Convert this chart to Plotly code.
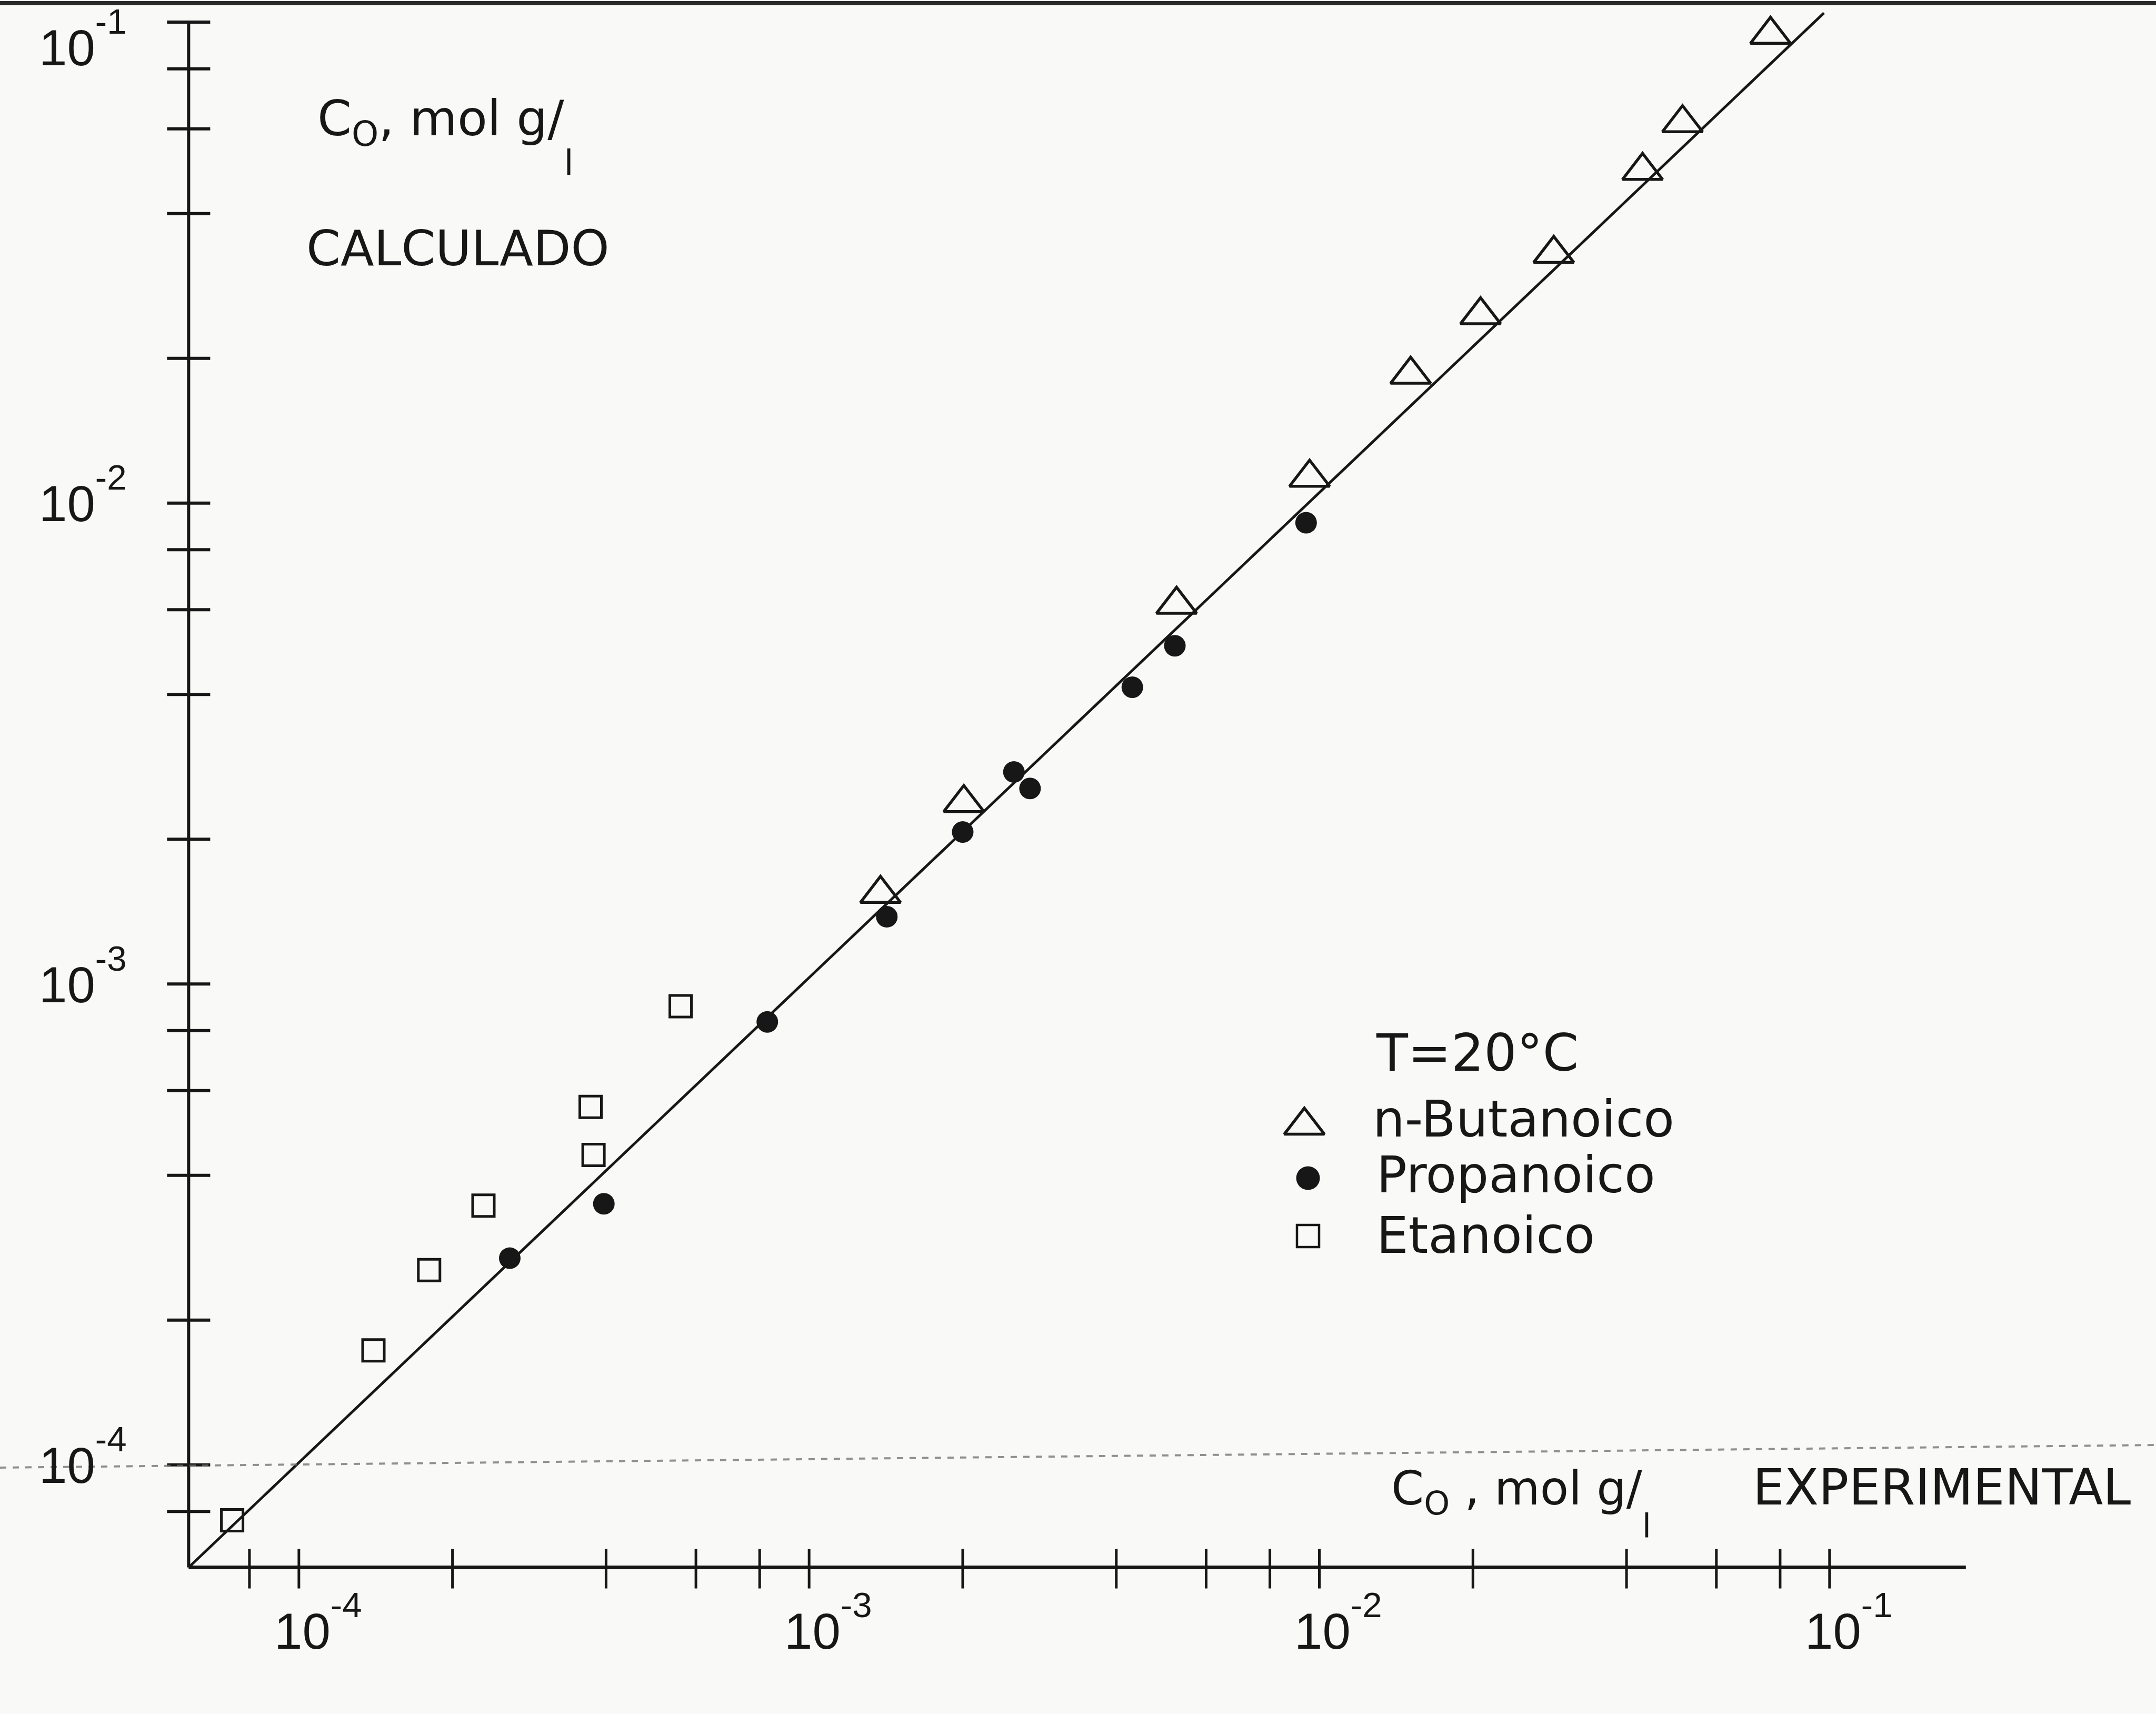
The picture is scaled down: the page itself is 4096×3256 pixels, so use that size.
import numpy as np
import plotly.graph_objects as go

W, H = 4096, 3256
INK = "#171717"
FONT = "DejaVu Sans, Noto Sans, sans-serif"
NUM_FONT = "Liberation Sans, Arial, sans-serif"

# Concentrations C0 (mol g/l): experimental (x) vs calculated (y)
BUT_EXP = [0.0766, 0.0515, 0.0430, 0.0288, 0.0207, 0.0151, 0.00957, 0.00525, 0.00201, 0.00138]
BUT_CAL = [0.0942, 0.0617, 0.0491, 0.0330, 0.0246, 0.0185, 0.0113, 0.00615, 0.00238, 0.00154]

PROP_EXP = [0.00942, 0.00521, 0.00430, 0.00252, 0.00271, 0.00200, 0.00142, 0.000828, 0.000396, 0.000259]
PROP_CAL = [0.00910, 0.00505, 0.00414, 0.00276, 0.00255, 0.00207, 0.00138, 0.000834, 0.000349, 0.000269]

ET_EXP = [0.000560, 0.000373, 0.000378, 0.000230, 0.000180, 0.000140, 0.0000740]
ET_CAL = [0.000899, 0.000555, 0.000441, 0.000346, 0.000254, 0.000173, 0.0000767]

# Calculated = experimental reference line
FIT_EXP = [6.08e-5, 0.0975]
FIT_CAL = [6.12e-5, 0.1045]

# Axis ticks (same for both log axes)
TICKS = [8e-5, 1e-4, 2e-4, 4e-4, 6e-4, 8e-4,
         1e-3, 2e-3, 4e-3, 6e-3, 8e-3,
         1e-2, 2e-2, 4e-2, 6e-2, 8e-2, 1e-1]
DECADES = [1e-4, 1e-3, 1e-2, 1e-1]
DECADE_EXPONENTS = ["-4", "-3", "-2", "-1"]

# Drawn extent of the two axis lines
X_AXIS = [6.08e-5, 0.185]
Y_AXIS = [6.12e-5, 0.1]

# Visible log ranges of the whole page
X_VIEW = [-4.5858, -0.3602]
Y_VIEW = [-4.5181, -0.9539]
PX_X = W / (X_VIEW[1] - X_VIEW[0])   # pixels per decade
PX_Y = H / (Y_VIEW[1] - Y_VIEW[0])

# exponent raised a little higher than the default superscript
SUP = "<sup style='baseline-shift:20px'>{}</sup>"

fig = go.Figure()

# --- axis lines -----------------------------------------------------------
fig.add_trace(go.Scatter(x=[X_AXIS[0], X_AXIS[1]], y=[Y_AXIS[0], Y_AXIS[0]],
                         mode="lines", line=dict(color=INK, width=7),
                         hoverinfo="skip", showlegend=False))
fig.add_trace(go.Scatter(x=[X_AXIS[0], X_AXIS[0]], y=[Y_AXIS[0], Y_AXIS[1]],
                         mode="lines", line=dict(color=INK, width=6),
                         hoverinfo="skip", showlegend=False))

# --- tick marks crossing the axes ------------------------------------------
xt_x, xt_y, yt_x, yt_y = [], [], [], []
for t in TICKS:
    xt_x += [t, t, None]
    xt_y += [Y_AXIS[0] * 10 ** (-40 / PX_Y), Y_AXIS[0] * 10 ** (35 / PX_Y), None]
    yt_y += [t, t, None]
    yt_x += [X_AXIS[0] * 10 ** (-41 / PX_X), X_AXIS[0] * 10 ** (41 / PX_X), None]
fig.add_trace(go.Scatter(x=xt_x, y=xt_y, mode="lines", line=dict(color=INK, width=5),
                         hoverinfo="skip", showlegend=False))
fig.add_trace(go.Scatter(x=yt_x, y=yt_y, mode="lines", line=dict(color=INK, width=6),
                         hoverinfo="skip", showlegend=False))

# --- reference line and data ------------------------------------------------
fig.add_trace(go.Scatter(x=FIT_EXP, y=FIT_CAL, mode="lines",
                         line=dict(color=INK, width=5),
                         hoverinfo="skip", showlegend=False))

fig.add_trace(go.Scatter(x=BUT_EXP, y=BUT_CAL, mode="markers", name="n-Butanoico",
                         cliponaxis=False,
                         marker=dict(symbol="triangle-up-open", size=66,
                                     color=INK, line=dict(color=INK, width=5.5))))
fig.add_trace(go.Scatter(x=PROP_EXP, y=PROP_CAL, mode="markers", name="Propanoico",
                         cliponaxis=False,
                         marker=dict(symbol="circle", size=41, color=INK)))
fig.add_trace(go.Scatter(x=ET_EXP, y=ET_CAL, mode="markers", name="Etanoico",
                         cliponaxis=False,
                         marker=dict(symbol="square-open", size=41,
                                     color=INK, line=dict(color=INK, width=5))))

annotations = []


def note(x, y, s, size, xref, yref, xanchor="left", xshift=0, yshift=0, family=FONT):
    annotations.append(dict(x=x, y=y, xref=xref, yref=yref, text=s, showarrow=False,
                            xanchor=xanchor, yanchor="middle",
                            xshift=xshift, yshift=yshift,
                            font=dict(family=family, size=size, color=INK)))


# decade labels
for v, ex in zip(DECADES, DECADE_EXPONENTS):
    lab = "10" + SUP.format(ex)
    # x axis: the "10" sits centred under its tick, exponent to the right
    note(np.log10(v), np.log10(Y_AXIS[0]), lab, 96, "x", "y", "left", -49, -104, NUM_FONT)
    # y axis: left of the axis (the top one sits lower, inside the page)
    drop = -47 if v == Y_AXIS[1] else 0
    note(np.log10(X_AXIS[0]), np.log10(v), lab, 96, "x", "y", "right", -115, 16 + drop,
         NUM_FONT)


# --- page decorations in pixel coordinates (x2 / y2) -------------------------
def txt(x, y, s, size):
    note(x, y, s, size, "x2", "y2")


txt(601, 259, "C<sub>O</sub>, mol g/<sub style='baseline-shift:-55px'>l</sub>", 93)
txt(580, 472, "CALCULADO", 93)
txt(2641, 2855, "C<sub>O</sub> , mol g/<sub style='baseline-shift:-43px'>l</sub>", 89)
txt(3328, 2825, "EXPERIMENTAL", 95)

# legend
txt(2612, 2000, "T=20°C", 98)
txt(2606, 2126, "n-Butanoico", 96)
txt(2613, 2232, "Propanoico", 96)
txt(2613, 2347, "Etanoico", 96)

fig.add_trace(go.Scatter(x=[2478], y=[2138], xaxis="x2", yaxis="y2", mode="markers",
                         cliponaxis=False, hoverinfo="skip", showlegend=False,
                         marker=dict(symbol="triangle-up-open", size=66, color=INK,
                                     line=dict(color=INK, width=5.5))))
fig.add_trace(go.Scatter(x=[2485], y=[2238], xaxis="x2", yaxis="y2", mode="markers",
                         cliponaxis=False, hoverinfo="skip", showlegend=False,
                         marker=dict(symbol="circle", size=45, color=INK)))
fig.add_trace(go.Scatter(x=[2485], y=[2348], xaxis="x2", yaxis="y2", mode="markers",
                         cliponaxis=False, hoverinfo="skip", showlegend=False,
                         marker=dict(symbol="square-open", size=42, color=INK,
                                     line=dict(color=INK, width=4.5))))

# page edge line at the top and the ruled line showing through the paper
fig.add_trace(go.Scatter(x=[0, W], y=[6, 6], xaxis="x2", yaxis="y2", mode="lines",
                         line=dict(color="#2a2a2a", width=8),
                         hoverinfo="skip", showlegend=False))
fig.add_trace(go.Scatter(x=[0, W], y=[2788, 2745], xaxis="x2", yaxis="y2", mode="lines",
                         line=dict(color="#6e6e6e", width=4, dash="dash"),
                         opacity=0.75, hoverinfo="skip", showlegend=False))

fig.update_layout(
    width=W, height=H,
    margin=dict(l=0, r=0, t=0, b=0),
    paper_bgcolor="#f9f9f7", plot_bgcolor="#f9f9f7",
    showlegend=False,
    xaxis=dict(type="log", range=X_VIEW, domain=[0, 1], visible=False, fixedrange=True),
    yaxis=dict(type="log", range=Y_VIEW, domain=[0, 1], visible=False, fixedrange=True),
    xaxis2=dict(range=[0, W], domain=[0, 1], overlaying="x", anchor="y2",
                visible=False, fixedrange=True),
    yaxis2=dict(range=[H, 0], domain=[0, 1], overlaying="y", anchor="x2",
                visible=False, fixedrange=True),
    annotations=annotations,
)

fig.write_html("out.html")
